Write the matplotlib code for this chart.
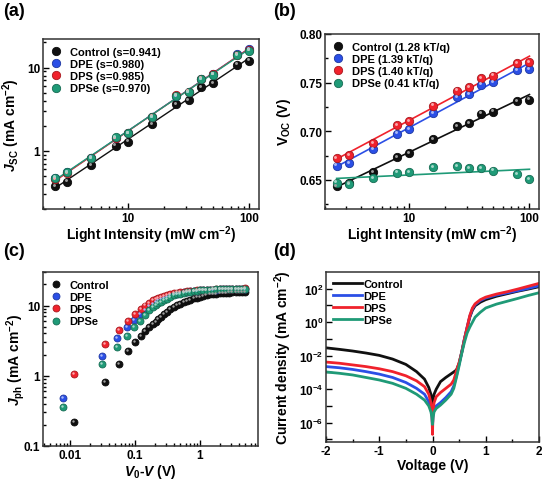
import numpy as np
import matplotlib
matplotlib.use("Agg")
import matplotlib.pyplot as plt
import matplotlib.colors as mcolors
from matplotlib.transforms import offset_copy
from matplotlib.ticker import FixedLocator, NullFormatter, LogLocator, MultipleLocator

plt.rcParams['font.family'] = ['Liberation Sans', 'DejaVu Sans']
plt.rcParams['font.weight'] = 'bold'
plt.rcParams['axes.labelweight'] = 'bold'
plt.rcParams['mathtext.fontset'] = 'custom'
plt.rcParams['mathtext.rm'] = 'Liberation Sans:bold'
plt.rcParams['mathtext.bf'] = 'Liberation Sans:bold'
plt.rcParams['mathtext.it'] = 'Liberation Sans:bold:italic'
plt.rcParams['mathtext.default'] = 'rm'

names = ['Control', 'DPE', 'DPS', 'DPSe']
colors = ['#101010', '#2b4fe6', '#f0222c', '#1f9a77']

# (a) Jsc vs light intensity
intensity = [2.5, 3.16, 5.0, 7.94, 10.0, 15.8, 25.1, 31.6, 39.8, 50.1, 79.4, 100.0]
jsc_control = [0.375, 0.427, 0.672, 1.15, 1.29, 2.10, 3.62, 4.08, 5.79, 6.48, 10.8, 12.1]
jsc_dpe = [0.47, 0.55, 0.83, 1.43, 1.62, 2.56, 4.55, 5.10, 7.25, 8.30, 14.4, 16.8]
jsc_dps = [0.46, 0.54, 0.82, 1.42, 1.63, 2.57, 4.62, 5.12, 7.35, 8.28, 14.3, 16.3]
jsc_dpse = [0.477, 0.553, 0.824, 1.45, 1.63, 2.55, 4.60, 5.09, 7.30, 8.23, 14.1, 15.9]
s_labels = ['0.941', '0.980', '0.985', '0.970']

# (b) Voc vs light intensity
voc_control = [0.6438, 0.6465, 0.6576, 0.6736, 0.6771, 0.6917, 0.7056, 0.7083, 0.7181, 0.7201, 0.7313, 0.7326]
voc_dpe = [0.6646, 0.6674, 0.6813, 0.6976, 0.7024, 0.7188, 0.7347, 0.7382, 0.7479, 0.7507, 0.7625, 0.7639]
voc_dps = [0.6722, 0.6757, 0.6875, 0.7063, 0.7104, 0.7264, 0.7417, 0.7451, 0.7549, 0.7573, 0.7698, 0.7712]
voc_dpse = [0.6472, 0.6458, 0.6514, 0.6573, 0.6576, 0.6632, 0.6642, 0.6622, 0.6618, 0.6594, 0.6556, 0.6507]
n_labels = ['1.28', '1.39', '1.40', '0.41']

# (c) Jph vs V0-V
v_tail = [0.19, 0.21, 0.23, 0.25, 0.28, 0.31, 0.35, 0.40, 0.45, 0.50, 0.56, 0.63, 0.71, 0.80, 0.90,
          1.0, 1.12, 1.26, 1.41, 1.58, 1.78, 2.0, 2.24, 2.5, 2.8, 3.16, 3.55, 4.0, 4.47, 4.9]
v_head_a = [0.0114, 0.035, 0.057, 0.079, 0.101, 0.123, 0.145, 0.167]
v_head_b = [0.0079, 0.031, 0.0535, 0.076, 0.0975, 0.120, 0.142, 0.164]
jph_control = [0.22, 0.82, 1.49, 2.24, 3.0, 3.7, 4.3, 4.9,
               5.4, 5.9, 6.4, 6.8, 7.5, 8.1, 8.8, 9.5, 10.1, 10.6, 11.1, 11.6, 12.1, 12.6, 13.0,
               13.4, 13.8, 14.1, 14.4, 14.6, 14.8, 15.0, 15.1, 15.2, 15.3, 15.4, 15.5, 15.6, 15.7, 15.8]
jph_dpe = [0.48, 1.92, 3.4, 4.9, 6.3, 7.6, 8.7, 9.7,
           10.6, 11.2, 11.8, 12.3, 12.9, 13.4, 13.9, 14.4, 14.8, 15.1, 15.4, 15.6, 15.9, 16.1, 16.3,
           16.4, 16.5, 16.6, 16.7, 16.8, 16.9, 17.0, 17.0, 17.1, 17.2, 17.2, 17.3, 17.3, 17.4, 17.4]
jph_dps = [1.05, 2.8, 4.5, 6.1, 7.6, 8.9, 10.0, 11.0,
           11.8, 12.4, 12.9, 13.3, 13.8, 14.2, 14.6, 15.0, 15.3, 15.5, 15.7, 15.9, 16.1, 16.3, 16.4,
           16.5, 16.6, 16.7, 16.8, 16.9, 17.0, 17.0, 17.1, 17.2, 17.2, 17.3, 17.3, 17.4, 17.4, 17.5]
jph_dpse = [0.36, 1.46, 2.58, 3.7, 4.9, 6.0, 7.3, 8.6,
            9.5, 10.1, 10.7, 11.2, 11.9, 12.5, 13.2, 13.9, 14.4, 14.8, 15.2, 15.5, 15.7, 15.9, 16.2,
            16.4, 16.6, 16.7, 16.8, 16.9, 17.0, 17.0, 17.1, 17.1, 17.2, 17.2, 17.3, 17.3, 17.4, 17.4]

# (d) dark J-V, log10 of |J| (mA cm-2)
voltage = [-2, -1.75, -1.5, -1.25, -1, -0.75, -0.5, -0.3, -0.15, -0.07, -0.03, -0.01, 0,
           0.01, 0.03, 0.07, 0.15, 0.25, 0.35, 0.4, 0.45, 0.5, 0.55, 0.6, 0.65, 0.7, 0.75,
           0.8, 0.9, 1.0, 1.2, 1.4, 1.6, 1.8, 2.0]
logj_control = [-1.53, -1.62, -1.72, -1.84, -1.98, -2.2, -2.52, -2.95, -3.4, -3.9, -4.3, -4.7, -5.0,
                -4.6, -4.3, -4.0, -3.55, -3.3, -3.08, -2.97, -2.85, -2.45, -1.75, -1.0, -0.35, 0.3, 0.72,
                0.98, 1.2, 1.35, 1.55, 1.7, 1.85, 1.98, 2.12]
logj_dpe = [-2.65, -2.72, -2.82, -2.95, -3.1, -3.3, -3.6, -3.95, -4.3, -4.75, -5.2, -5.6, -6.3,
            -5.6, -5.2, -5.0, -4.8, -4.5, -4.15, -3.8, -3.2, -2.5, -1.8, -1.0, -0.3, 0.35, 0.8,
            1.05, 1.3, 1.45, 1.62, 1.75, 1.88, 2.02, 2.18]
logj_dps = [-2.38, -2.45, -2.55, -2.65, -2.78, -2.95, -3.2, -3.5, -3.85, -4.3, -4.8, -5.4, -6.7,
            -5.3, -4.8, -4.45, -4.2, -3.95, -3.7, -3.45, -2.9, -2.4, -1.8, -1.0, -0.3, 0.4, 0.85,
            1.1, 1.35, 1.5, 1.68, 1.82, 1.98, 2.15, 2.32]
logj_dpse = [-2.97, -3.05, -3.15, -3.3, -3.45, -3.65, -3.95, -4.3, -4.65, -5.0, -5.35, -5.7, -6.1,
             -5.7, -5.35, -5.15, -4.95, -4.65, -4.3, -3.95, -3.3, -2.6, -1.85, -1.2, -0.65, -0.3, 0.0,
             0.3, 0.6, 0.85, 1.08, 1.25, 1.42, 1.6, 1.76]

W, H = 543, 481
fig = plt.figure(figsize=(W / 100, H / 100), dpi=100)


def box(l, t, r, b):
    return [l / W, 1 - b / H, (r - l) / W, (b - t) / H]


def mix(c, f):
    # blend colour c with white by fraction f
    r, g, b = mcolors.to_rgb(c)
    return (r + (1 - r) * f, g + (1 - g) * f, b + (1 - b) * f)


def dark(c, f):
    r, g, b = mcolors.to_rgb(c)
    return (r * f, g * f, b * f)


def balls(ax, xs, ys, c, ms, label=None):
    # shaded sphere look: base marker + small highlight
    ax.plot(xs, ys, 'o', ms=ms, color=c, mec=dark(c, 0.7), mew=0.6, label=label, zorder=3)
    tr = offset_copy(ax.transData, fig=fig, x=-ms * 0.15, y=ms * 0.15, units='points')
    ax.plot(xs, ys, 'o', ms=ms * 0.35, color=mix(c, 0.6), mew=0, transform=tr, zorder=4)


ax_a = fig.add_axes(box(43, 40, 259, 210))
ax_b = fig.add_axes(box(325, 35, 539, 210))
ax_c = fig.add_axes(box(43, 273, 258, 447))
ax_d = fig.add_axes(box(326, 273, 539, 443))

for ax in [ax_a, ax_b, ax_c, ax_d]:
    ax.tick_params(which='both', direction='in', labelsize=8.5, width=1, pad=2)
    ax.tick_params(which='major', length=4)
    ax.tick_params(which='minor', length=2)
    for sp in ax.spines.values():
        sp.set_linewidth(1.1)
        sp.set_color('#333333')

leg_kw = dict(loc='upper left', frameon=False, fontsize=8, handlelength=1.0,
              handletextpad=0.7, labelspacing=0.2, borderaxespad=0.3)

# ---- (a)
x = np.array(intensity)
for name, c, y, s in zip(names, colors, [jsc_control, jsc_dpe, jsc_dps, jsc_dpse], s_labels):
    balls(ax_a, x, y, c, 6, label=f'{name} (s={s})')
    k, b = np.polyfit(np.log10(x), np.log10(y), 1)
    ax_a.plot(x, 10 ** (k * np.log10(x) + b), '-', lw=1, color=c, zorder=2)
ax_a.set_xscale('log')
ax_a.set_yscale('log')
ax_a.set_xlim(2.0, 120)
ax_a.set_ylim(0.2, 22)
ax_a.xaxis.set_major_locator(FixedLocator([10, 100]))
ax_a.set_xticklabels(['10', '100'])
ax_a.xaxis.set_minor_locator(LogLocator(base=10, subs=np.arange(2, 10)))
ax_a.xaxis.set_minor_formatter(NullFormatter())
ax_a.yaxis.set_major_locator(FixedLocator([1, 10]))
ax_a.set_yticklabels(['1', '10'])
ax_a.yaxis.set_minor_locator(LogLocator(base=10, subs=np.arange(2, 10)))
ax_a.yaxis.set_minor_formatter(NullFormatter())
ax_a.set_xlabel('Light Intensity (mW cm$^{-2}$)', fontsize=10, labelpad=0)
ax_a.set_ylabel('$\\mathit{J}_{\\mathrm{SC}}$ (mA cm$^{-2}$)', fontsize=10)
ax_a.yaxis.set_label_coords(-0.095, 0.5)
ax_a.legend(**leg_kw)

# ---- (b)
for name, c, y, n in zip(names, colors, [voc_control, voc_dpe, voc_dps, voc_dpse], n_labels):
    balls(ax_b, x, y, c, 6, label=f'{name} ({n} kT/q)')
    k, b = np.polyfit(np.log10(x), y, 1)
    ax_b.plot(x, k * np.log10(x) + b, '-', lw=1.2, color=c, zorder=2)
ax_b.set_xscale('log')
ax_b.set_xlim(2.0, 120)
ax_b.set_ylim(0.62, 0.80)
ax_b.xaxis.set_major_locator(FixedLocator([10, 100]))
ax_b.set_xticklabels(['10', '100'])
ax_b.xaxis.set_minor_locator(LogLocator(base=10, subs=np.arange(2, 10)))
ax_b.xaxis.set_minor_formatter(NullFormatter())
ax_b.yaxis.set_major_locator(FixedLocator([0.65, 0.70, 0.75, 0.80]))
ax_b.set_yticklabels(['0.65', '0.70', '0.75', '0.80'])
ax_b.yaxis.set_minor_locator(MultipleLocator(0.025))
ax_b.set_xlabel('Light Intensity (mW cm$^{-2}$)', fontsize=10, labelpad=0)
ax_b.set_ylabel('V$_{\\mathrm{OC}}$ (V)', fontsize=10)
ax_b.yaxis.set_label_coords(-0.15, 0.5)
ax_b.legend(**leg_kw)

# ---- (c)
for name, c, y, head in zip(names, colors, [jph_control, jph_dpe, jph_dps, jph_dpse],
                            [v_head_a, v_head_b, v_head_a, v_head_b]):
    balls(ax_c, head + v_tail, y, c, 5, label=name)
ax_c.set_xscale('log')
ax_c.set_yscale('log')
ax_c.set_xlim(0.00385, 7.8)
ax_c.set_ylim(0.1, 30)
ax_c.xaxis.set_major_locator(FixedLocator([0.01, 0.1, 1]))
ax_c.set_xticklabels(['0.01', '0.1', '1'])
ax_c.xaxis.set_minor_locator(LogLocator(base=10, subs=np.arange(2, 10)))
ax_c.xaxis.set_minor_formatter(NullFormatter())
ax_c.yaxis.set_major_locator(FixedLocator([0.1, 1, 10]))
ax_c.set_yticklabels(['0.1', '1', '10'])
ax_c.yaxis.set_minor_locator(LogLocator(base=10, subs=np.arange(2, 10)))
ax_c.yaxis.set_minor_formatter(NullFormatter())
ax_c.set_xlabel('$\\mathit{V}_{0}$-$\\mathit{V}$ (V)', fontsize=10, labelpad=1)
ax_c.set_ylabel('$\\mathit{J}_{\\mathrm{ph}}$ (mA cm$^{-2}$)', fontsize=10)
ax_c.yaxis.set_label_coords(-0.075, 0.5)
ax_c.legend(**leg_kw)

# ---- (d)
for name, c, lj in zip(names, colors, [logj_control, logj_dpe, logj_dps, logj_dpse]):
    ax_d.plot(voltage, 10 ** np.array(lj), '-', lw=2, color=c, label=name)
ax_d.set_yscale('log')
ax_d.set_xlim(-2, 2)
ax_d.set_ylim(7e-8, 1e3)
ax_d.xaxis.set_major_locator(FixedLocator([-2, -1, 0, 1, 2]))
ax_d.set_xticklabels(['-2', '-1', '0', '1', '2'])
ax_d.xaxis.set_minor_locator(MultipleLocator(0.5))
ax_d.yaxis.set_major_locator(FixedLocator([1e-6, 1e-4, 1e-2, 1, 1e2]))
ax_d.set_yticklabels(['10$^{-6}$', '10$^{-4}$', '10$^{-2}$', '10$^{0}$', '10$^{2}$'])
ax_d.yaxis.set_minor_locator(FixedLocator([1e-7, 1e-5, 1e-3, 1e-1, 1e1]))
ax_d.yaxis.set_minor_formatter(NullFormatter())
ax_d.tick_params(axis='y', which='minor', length=4)
ax_d.set_xlabel('Voltage (V)', fontsize=10, labelpad=1)
ax_d.set_ylabel('Current density (mA cm$^{-2}$)', fontsize=10)
ax_d.yaxis.set_label_coords(-0.15, 0.5)
ax_d.legend(loc='upper left', frameon=False, fontsize=8, handlelength=2.6,
            handletextpad=0.15, labelspacing=0.2, borderaxespad=0.2)

for lab, (px, py) in zip(['(a)', '(b)', '(c)', '(d)'], [(3, 3), (273, 3), (3, 243), (273, 243)]):
    fig.text(px / W, 1 - py / H, lab, fontsize=13, fontweight='bold', va='top', ha='left')

fig.savefig('out.png', dpi=100)
